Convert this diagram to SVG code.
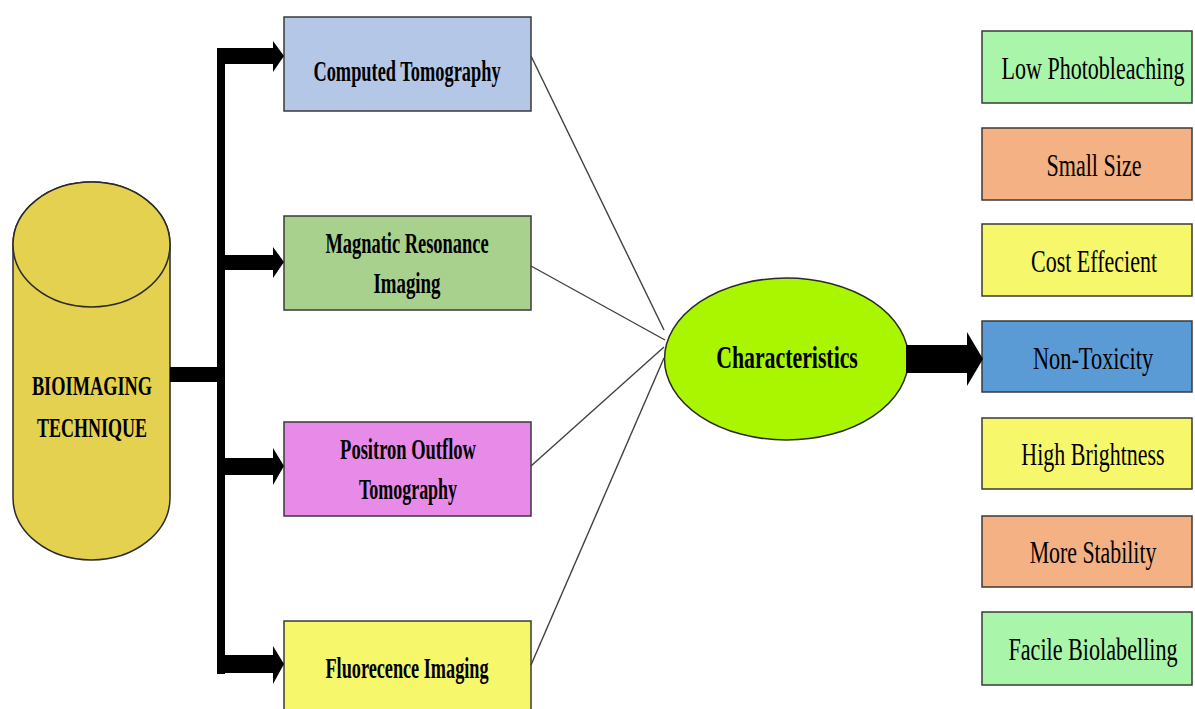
<svg xmlns="http://www.w3.org/2000/svg" width="1195" height="709" viewBox="0 0 1195 709">
<style>
.box{stroke:#3a3a3a;stroke-width:1.5}
.bt{font-family:"Liberation Serif",serif;font-weight:bold;font-size:29px;fill:#000;text-anchor:middle}
.rt{font-family:"Liberation Serif",serif;font-size:31px;fill:#000;text-anchor:middle}
.thin{stroke:#404040;stroke-width:1.4;fill:none}
.blk{fill:#000}
</style>
<rect width="1195" height="709" fill="#fff"/>
<g id="bioimaging">
<path d="M13,244.5 A78.5,62.5 0 0 1 170,244.5 L170,497.5 A78.5,62.5 0 0 1 13,497.5 Z" fill="#e3d14f" stroke="#2a2a2a" stroke-width="1.5"/>
<ellipse cx="91.5" cy="244.5" rx="78.5" ry="62.5" fill="#e3d14f" stroke="#2a2a2a" stroke-width="1.5"/>
<text class="bt" style="font-size:27px" transform="translate(92,395) scale(0.65,1)" textLength="185" lengthAdjust="spacingAndGlyphs">BIOIMAGING</text>
<text class="bt" style="font-size:27px" transform="translate(92,437) scale(0.65,1)" textLength="169" lengthAdjust="spacingAndGlyphs">TECHNIQUE</text>
</g>
<g id="ct">
<rect class="box" x="284" y="17" width="247" height="94" fill="#b4c7e7"/>
<text class="bt" transform="translate(407,81) scale(0.65,1)" textLength="288" lengthAdjust="spacingAndGlyphs">Computed Tomography</text>
</g>
<g id="mri">
<rect class="box" x="284" y="216" width="247" height="94" fill="#a9d18e"/>
<text class="bt" transform="translate(407,253) scale(0.65,1)" textLength="251" lengthAdjust="spacingAndGlyphs">Magnatic Resonance</text>
<text class="bt" transform="translate(407,293) scale(0.65,1)" textLength="103" lengthAdjust="spacingAndGlyphs">Imaging</text>
</g>
<g id="pot">
<rect class="box" x="284" y="422" width="247" height="94" fill="#e88ae8"/>
<text class="bt" transform="translate(408,459) scale(0.65,1)" textLength="209" lengthAdjust="spacingAndGlyphs">Positron Outflow</text>
<text class="bt" transform="translate(408,499) scale(0.65,1)" textLength="151" lengthAdjust="spacingAndGlyphs">Tomography</text>
</g>
<g id="fi">
<rect class="box" x="284" y="621" width="247" height="94" fill="#f7f76b"/>
<text class="bt" transform="translate(407,678) scale(0.65,1)" textLength="251" lengthAdjust="spacingAndGlyphs">Fluorecence Imaging</text>
</g>
<g id="characteristics">
<ellipse cx="786.5" cy="359" rx="122" ry="81" fill="#aaf500" stroke="#2a2a2a" stroke-width="1.5"/>
<text class="bt" style="font-size:31px" transform="translate(787,368) scale(0.65,1)" textLength="218" lengthAdjust="spacingAndGlyphs">Characteristics</text>
</g>
<g id="low-photobleaching">
<rect class="box" x="982" y="31" width="210" height="72" fill="#a9f5a9"/>
<text class="rt" transform="translate(1093,79) scale(0.72,1)" textLength="254" lengthAdjust="spacingAndGlyphs">Low Photobleaching</text>
</g>
<g id="small-size">
<rect class="box" x="982" y="128" width="210" height="72" fill="#f4b183"/>
<text class="rt" transform="translate(1094,176) scale(0.72,1)" textLength="132" lengthAdjust="spacingAndGlyphs">Small Size</text>
</g>
<g id="cost-effecient">
<rect class="box" x="982" y="224" width="210" height="72" fill="#f7f76b"/>
<text class="rt" transform="translate(1094,272) scale(0.72,1)" textLength="175" lengthAdjust="spacingAndGlyphs">Cost Effecient</text>
</g>
<g id="non-toxicity">
<rect class="box" x="982" y="321" width="210" height="71" fill="#5b9bd5"/>
<text class="rt" transform="translate(1093,369) scale(0.72,1)" textLength="167" lengthAdjust="spacingAndGlyphs">Non-Toxicity</text>
</g>
<g id="high-brightness">
<rect class="box" x="982" y="418" width="210" height="71" fill="#f7f76b"/>
<text class="rt" transform="translate(1093,465) scale(0.72,1)" textLength="199" lengthAdjust="spacingAndGlyphs">High Brightness</text>
</g>
<g id="more-stability">
<rect class="box" x="982" y="516" width="210" height="71" fill="#f4b183"/>
<text class="rt" transform="translate(1093,563) scale(0.72,1)" textLength="176" lengthAdjust="spacingAndGlyphs">More Stability</text>
</g>
<g id="facile-biolabelling">
<rect class="box" x="982" y="612" width="210" height="73" fill="#a9f5a9"/>
<text class="rt" transform="translate(1093,660) scale(0.72,1)" textLength="235" lengthAdjust="spacingAndGlyphs">Facile Biolabelling</text>
</g>
<g id="connectors">
<rect class="blk" x="170" y="367" width="50" height="15"/>
<rect class="blk" x="217" y="48" width="8" height="626"/>
<rect class="blk" x="217" y="48" width="58" height="16"/>
<polygon class="blk" points="273,41 284,56 273,72"/>
<rect class="blk" x="217" y="255" width="58" height="15"/>
<polygon class="blk" points="273,247 284,262 273,278"/>
<rect class="blk" x="217" y="458" width="58" height="17"/>
<polygon class="blk" points="273,448 284,466 273,485"/>
<rect class="blk" x="217" y="655" width="58" height="18"/>
<polygon class="blk" points="273,646 284,664 273,684"/>
<line class="thin" x1="531" y1="56" x2="664" y2="330"/>
<line class="thin" x1="531" y1="266" x2="665" y2="340"/>
<line class="thin" x1="531" y1="466" x2="664" y2="347"/>
<line class="thin" x1="531" y1="665" x2="664" y2="358"/>
<rect class="blk" x="906" y="345" width="64" height="28"/>
<polygon class="blk" points="967,332 983,359 967,386"/>
</g>
</svg>
